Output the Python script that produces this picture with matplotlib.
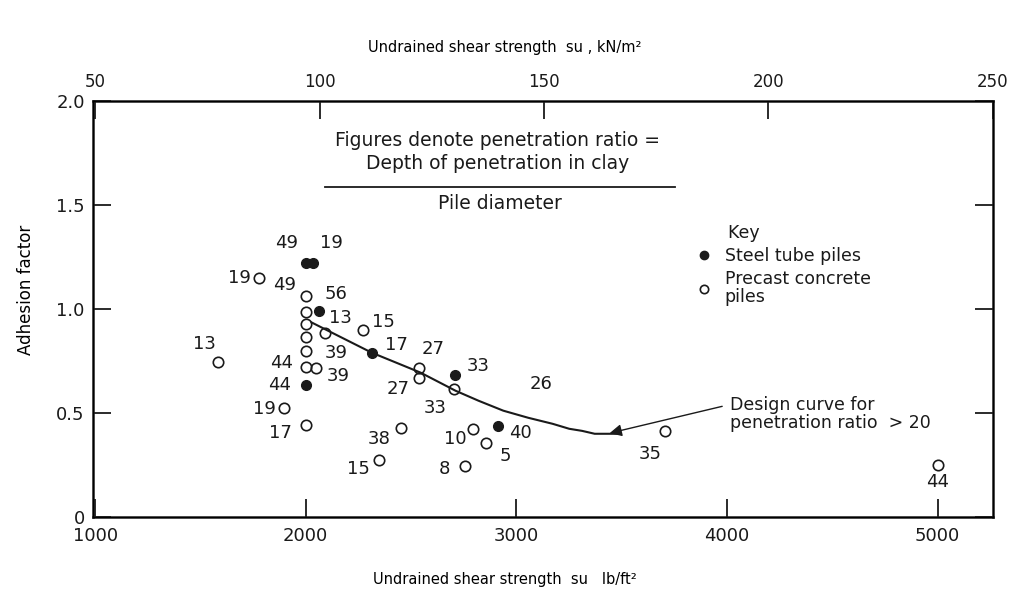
import matplotlib
matplotlib.use('Agg')
import matplotlib.pyplot as plt
from matplotlib.lines import Line2D

# steel tube piles: su (lb/ft2), adhesion factor, penetration ratio
steel_su = [2000, 2035, 2062, 2313, 2711, 2000, 2915]
steel_alpha = [1.22, 1.22, 0.99, 0.79, 0.684, 0.636, 0.439]
steel_ratio = ['49', '19', '56', '17', '33', '44', '40']

# precast concrete piles
concrete_su = [1780, 2000, 2000, 2000, 2090, 2000, 2000, 2270, 2540, 2540, 2706, 2000,
               2047, 1895, 2000, 1585, 2450, 2796, 2858, 2346, 2754, 3707, 5000]
concrete_alpha = [1.147, 1.06, 0.983, 0.93, 0.882, 0.867, 0.80, 0.90, 0.718, 0.67, 0.617, 0.723,
                  0.718, 0.525, 0.443, 0.747, 0.429, 0.424, 0.357, 0.275, 0.246, 0.414, 0.25]
concrete_ratio = ['19', '49', '', '13', '', '', '39', '15', '27', '27', '33', '44',
                  '39', '19', '17', '13', '38', '10', '5', '15', '8', '35', '44']

# design curve for penetration ratio > 20
design_su = [2028, 2313, 2545, 2711, 2820, 2938, 3056, 3172, 3251, 3312, 3372, 3405, 3484]
design_alpha = [0.935, 0.79, 0.694, 0.607, 0.559, 0.511, 0.477, 0.448, 0.424, 0.414, 0.40, 0.40, 0.40]

# label offsets in pixels (dx, dy)
steel_off = [(-19, 20), (18, 20), (17, 17), (25, 8), (23, 9), (-26, 0), (22, -7)]
concrete_off = [(-20, 0), (-21, 11), None, (35, 6), None, None, (30, -2), (21, 8), (14, 19),
                (-21, -11), (-19, -19), (-24, 4), (23, -8), (-19, -1), (-25, -8), (-14, 18),
                (-21, -11), (-18, -10), (19, -13), (-20, -9), (-20, -3), (-15, -23), (0, -17)]

ink = '#1a1a1a'
plt.rcParams['font.family'] = 'DejaVu Sans'
plt.rcParams['text.color'] = ink

fig = plt.figure(figsize=(10.11, 5.97), dpi=100)
ax = fig.add_axes([0.092, 0.134, 0.890, 0.697])

ax.plot(design_su, design_alpha, '-', color=ink, lw=1.5, zorder=2)
ax.plot(concrete_su, concrete_alpha, 'o', mfc='none', mec=ink, ms=7.5, mew=1.2, zorder=3)
ax.plot(steel_su, steel_alpha, 'o', color=ink, ms=7, zorder=3)

def label_points(xs, ys, texts, offs):
    for x, y, t, o in zip(xs, ys, texts, offs):
        if not t or o is None:
            continue
        ax.annotate(t, (x, y), xytext=(o[0] * 0.72, o[1] * 0.72), textcoords='offset points',
                    ha='center', va='center', fontsize=13, color=ink)

label_points(steel_su, steel_alpha, steel_ratio, steel_off)
label_points(concrete_su, concrete_alpha, concrete_ratio, concrete_off)
ax.text(3118, 0.64, '26', ha='center', va='center', fontsize=13, color=ink)

# explanatory note
ax.text(2912, 1.812, 'Figures denote penetration ratio =', ha='center', va='center', fontsize=13.5)
ax.text(2912, 1.701, 'Depth of penetration in clay', ha='center', va='center', fontsize=13.5)
ax.plot([2091, 3752], [1.586, 1.586], color=ink, lw=1.3)
ax.text(2920, 1.505, 'Pile diameter', ha='center', va='center', fontsize=13.5)

# design curve callout
ax.annotate('', xy=(3430, 0.40), xytext=(3990, 0.535),
            arrowprops=dict(arrowstyle='-|>', color=ink, lw=1.0, mutation_scale=18))
ax.text(4015, 0.495, 'Design curve for\npenetration ratio  > 20', ha='left', va='center',
        fontsize=12.5, linespacing=1.0)

handles = [Line2D([], [], marker='o', ls='none', color=ink, ms=6),
           Line2D([], [], marker='o', ls='none', mfc='none', mec=ink, ms=6, mew=1.2)]
leg = ax.legend(handles, ['Steel tube piles', 'Precast concrete\npiles'], title='      Key',
                loc='upper left', bbox_to_anchor=(0.652, 0.742), frameon=False, fontsize=12.5,
                title_fontsize=12.5, handletextpad=0.7, handlelength=1.0, labelspacing=0.3,
                alignment='left')
leg.get_texts()[1].set_linespacing(0.95)

ax.set_xlim(990, 5262)
ax.set_ylim(0, 2.0)
ax.set_xticks([1000, 2000, 3000, 4000, 5000])
ax.set_yticks([0, 0.5, 1.0, 1.5, 2.0])
ax.set_yticklabels(['0', '0.5', '1.0', '1.5', '2.0'])
ax.tick_params(direction='in', length=13, width=1.3, labelsize=13, colors=ink, pad=7,
               right=True, labelright=False)
ax.tick_params(axis='y', which='major', pad=6)
for s in ax.spines.values():
    s.set_linewidth(1.8)
    s.set_color(ink)
ax.set_xlabel('Undrained shear strength  su   lb/ft²', fontsize=10.5)
ax.xaxis.set_label_coords(0.458, -0.133)
ax.set_ylabel('Adhesion factor', fontsize=12)
ax.yaxis.set_label_coords(-0.064, 0.545)

# kN/m2 scale along the top
top = ax.twiny()
top.set_xlim(49.5, 250)
top.set_xticks([50, 100, 150, 200, 250])
top.tick_params(direction='in', length=13, width=1.3, labelsize=12, colors=ink, pad=7)
top.set_xlabel('Undrained shear strength  su , kN/m²', fontsize=10.5)
top.xaxis.set_label_coords(0.458, 1.118)

fig.savefig('out.png', dpi=100, facecolor='white')
